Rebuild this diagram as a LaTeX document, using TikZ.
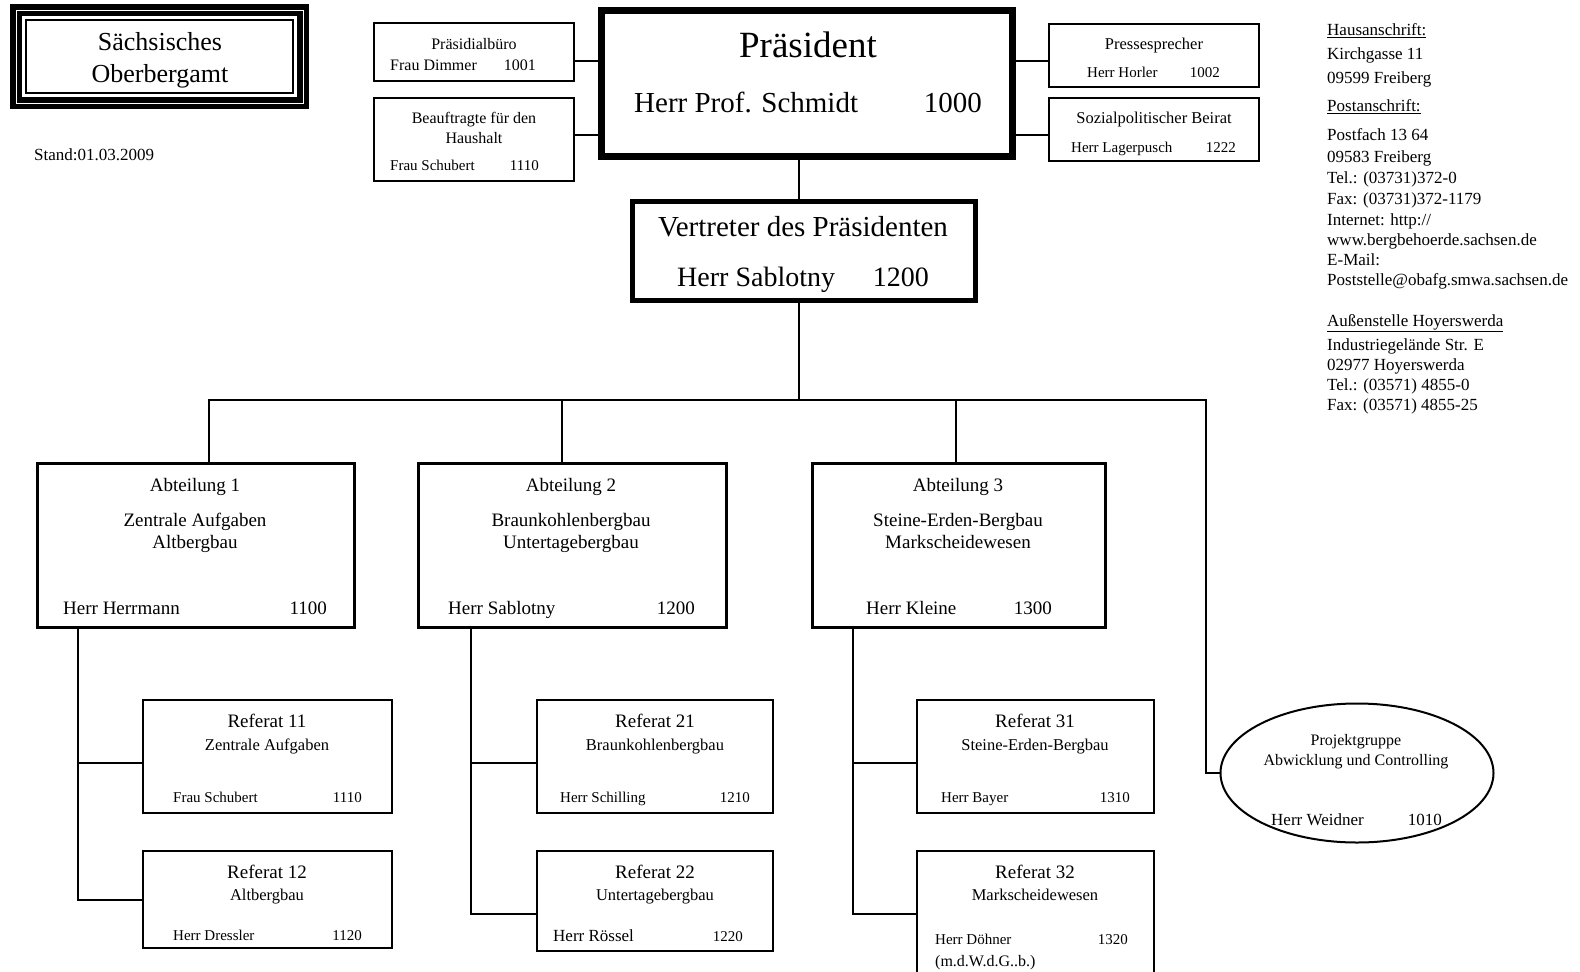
\documentclass[tikz,border=0pt]{standalone}
\usepackage{fontspec}
\setmainfont{Liberation Serif}
\usetikzlibrary{shapes.geometric,calc}
\newcommand{\fsz}[1]{\fontsize{#1}{#1}\selectfont}
\begin{document}
\begin{tikzpicture}[x=1pt,y=-1pt,
  box/.style={draw,rectangle,inner sep=0pt,outer sep=0pt,line width=2pt},
  abtbox/.style={box,line width=3pt},
  refbox/.style={box,line width=2.5pt},
  conn/.style={line width=2pt},
  t/.style={inner sep=0pt,anchor=mid,font=\fsz{#1},yshift={-0.25*#1}},
  tl/.style={inner sep=0pt,anchor=mid west,font=\fsz{#1},yshift={-0.25*#1}},
  tr/.style={inner sep=0pt,anchor=mid east,font=\fsz{#1},yshift={-0.25*#1}}
]
\useasboundingbox (0,0) rectangle (1580,972);
\clip (0,0) rectangle (1580,972);

% title
\node[draw,line width=12pt,inner sep=0pt,outer sep=0pt,minimum width=287,minimum height=93] (title) at (159.5,56.5) {};
\draw[white,line width=0.8pt] (title.north west) rectangle (title.south east);
\draw[line width=2pt] ($(title.north west)+(10,10)$) rectangle ($(title.south east)+(-10,-10)$);
\node[t=26] (tt1) at (160,42) {Sächsisches};
\node[t=26] (tt2) at (160,74) {Oberbergamt};
\node[tl=17] (stand) at (34,154) {Stand:01.03.2009};

% top boxes
\node[box,minimum width=200,minimum height=58] (pb) at (474,52) {};
\node[t=16] (pb1) at (474,43) {Präsidialbüro};
\node[tl=16] (pb2) at (390,64) {Frau Dimmer};
\node[tr=16] (pb3) at (536,64) {1001};

\node[box,minimum width=200,minimum height=83] (bh) at (474,139.5) {};
\node[t=16] (bh1) at (474,117) {Beauftragte für den};
\node[t=16] (bh2) at (474,137) {Haushalt};
\node[tl=15] (bh3) at (390,164) {Frau Schubert};
\node[tr=15] (bh4) at (539,164) {1110};

\node[box,line width=7.5pt,minimum width=411,minimum height=146] (praes) at (807,83.5) {};
\node[t=37] (pr1) at (808,46) {Präsident};
\node[tl=29] (pr2) at (634,103) {Herr Prof. Schmidt};
\node[tr=29] (pr3) at (982,103) {1000};

\node[box,line width=5pt,minimum width=343,minimum height=99] (vert) at (803.5,250.5) {};
\node[t=29] (ve1) at (803,227) {Vertreter des Präsidenten};
\node[tl=28] (ve2) at (677,277) {Herr Sablotny};
\node[tr=28] (ve3) at (929,277) {1200};

\node[box,minimum width=210,minimum height=63] (press) at (1154,55.5) {};
\node[t=16.5] (ps1) at (1154,43) {Pressesprecher};
\node[tl=15] (ps2) at (1087,71) {Herr Horler};
\node[tr=15] (ps3) at (1220,71) {1002};

\node[box,minimum width=210,minimum height=63] (soz) at (1154,129.5) {};
\node[t=16.5] (so1) at (1154,117) {Sozialpolitischer Beirat};
\node[tl=15] (so2) at (1071,146) {Herr Lagerpusch};
\node[tr=15] (so3) at (1236,146) {1222};

% address block
\begin{scope}[every node/.style={tl=17}]
\node (a1) at (1327,29) {\underline{Hausanschrift:}};
\node (a2) at (1327,53) {Kirchgasse 11};
\node (a3) at (1327,77) {09599 Freiberg};
\node (a4) at (1327,105) {\underline{Postanschrift:}};
\node (a5) at (1327,134) {Postfach 13 64};
\node (a6) at (1327,156) {09583 Freiberg};
\node (a7) at (1327,177) {Tel.: (03731)372-0};
\node (a8) at (1327,198) {Fax: (03731)372-1179};
\node (a9) at (1327,219) {Internet: http://};
\node (a10) at (1327,239) {www.bergbehoerde.sachsen.de};
\node (a11) at (1327,259) {E-Mail:};
\node (a12) at (1327,279) {Poststelle@obafg.smwa.sachsen.de};
\node (a13) at (1327,320) {\underline{Außenstelle Hoyerswerda}};
\node (a14) at (1327,344) {Industriegelände Str. E};
\node (a15) at (1327,364) {02977 Hoyerswerda};
\node (a16) at (1327,384) {Tel.: (03571) 4855-0};
\node (a17) at (1327,404) {Fax: (03571) 4855-25};
\end{scope}

% Abteilungen
\node[abtbox,minimum width=317,minimum height=164] (abt1) at (195.5,545) {};
\node[t=19] (ab11) at (195,484) {Abteilung 1};
\node[t=19] (ab12) at (195,519) {Zentrale Aufgaben};
\node[t=19] (ab13) at (195,541) {Altbergbau};
\node[tl=19] (ab14) at (63,607) {Herr Herrmann};
\node[tr=19] (ab15) at (327,607) {1100};

\node[abtbox,minimum width=308,minimum height=164] (abt2) at (572,545) {};
\node[t=19] (ab21) at (571,484) {Abteilung 2};
\node[t=19] (ab22) at (571,519) {Braunkohlenbergbau};
\node[t=19] (ab23) at (571,541) {Untertagebergbau};
\node[tl=19] (ab24) at (448,607) {Herr Sablotny};
\node[tr=19] (ab25) at (695,607) {1200};

\node[abtbox,minimum width=293,minimum height=164] (abt3) at (958.5,545) {};
\node[t=19] (ab31) at (958,484) {Abteilung 3};
\node[t=19] (ab32) at (958,519) {Steine-Erden-Bergbau};
\node[t=19] (ab33) at (958,541) {Markscheidewesen};
\node[tl=19] (ab34) at (866,607) {Herr Kleine};
\node[tr=19] (ab35) at (1052,607) {1300};

% Referate
\node[refbox,minimum width=249,minimum height=113] (r11) at (267.5,756.5) {};
\node[t=19] (r111) at (267,720) {Referat 11};
\node[t=16.5] (r112) at (267,744) {Zentrale Aufgaben};
\node[tl=15] (r113) at (173,796) {Frau Schubert};
\node[tr=15] (r114) at (362,796) {1110};

\node[refbox,minimum width=249,minimum height=97] (r12) at (267.5,899.5) {};
\node[t=19] (r121) at (267,871) {Referat 12};
\node[t=16.5] (r122) at (267,894) {Altbergbau};
\node[tl=15] (r123) at (173,934) {Herr Dressler};
\node[tr=15] (r124) at (362,934) {1120};

\node[refbox,minimum width=236,minimum height=113] (r21) at (655,756.5) {};
\node[t=19] (r211) at (655,720) {Referat 21};
\node[t=16.5] (r212) at (655,744) {Braunkohlenbergbau};
\node[tl=15] (r213) at (560,796) {Herr Schilling};
\node[tr=15] (r214) at (750,796) {1210};

\node[refbox,minimum width=236,minimum height=100] (r22) at (655,901) {};
\node[t=19] (r221) at (655,871) {Referat 22};
\node[t=16.5] (r222) at (655,894) {Untertagebergbau};
\node[tl=17] (r223) at (553,935) {Herr Rössel};
\node[tr=15] (r224) at (743,935) {1220};

\node[refbox,minimum width=237,minimum height=113] (r31) at (1035.5,756.5) {};
\node[t=19] (r311) at (1035,720) {Referat 31};
\node[t=16.5] (r312) at (1035,744) {Steine-Erden-Bergbau};
\node[tl=15] (r313) at (941,796) {Herr Bayer};
\node[tr=15] (r314) at (1130,796) {1310};

\node[refbox,minimum width=237,minimum height=139] (r32) at (1035.5,920.5) {};
\node[t=19] (r321) at (1035,871) {Referat 32};
\node[t=16.5] (r322) at (1035,894) {Markscheidewesen};
\node[tl=15] (r323) at (935,938) {Herr Döhner};
\node[tr=15] (r324) at (1128,938) {1320};
\node[tl=16] (r325) at (935,960) {(m.d.W.d.G..b.)};

% Projektgruppe
\node[draw,ellipse,line width=2pt,inner sep=0pt,outer sep=0pt,minimum width=273,minimum height=139] (ell) at (1357,773) {};
\node[t=16] (el1) at (1356,739) {Projektgruppe};
\node[t=16] (el2) at (1356,759) {Abwicklung und Controlling};
\node[tl=17] (el3) at (1271,819) {Herr Weidner};
\node[tr=17] (el4) at (1442,819) {1010};

% helper coordinates
\coordinate (ya) at (0,61);
\coordinate (yb) at (0,135);
\coordinate (xv) at (799,0);
\coordinate (bus) at (0,400);
\coordinate (d1) at (209,0);
\coordinate (d2) at (562,0);
\coordinate (d3) at (956,0);
\coordinate (d4) at (1206,0);
\coordinate (v1) at (78,0);
\coordinate (v2) at (471,0);
\coordinate (v3) at (853,0);
\coordinate (yr1) at (0,763);
\coordinate (yr2a) at (0,900);
\coordinate (yr2b) at (0,914);

% connectors
\draw[conn] (pb.east |- ya) -- (praes.west |- ya);
\draw[conn] (bh.east |- yb) -- (praes.west |- yb);
\draw[conn] (praes.east |- ya) -- (press.west |- ya);
\draw[conn] (praes.east |- yb) -- (soz.west |- yb);
\draw[conn] (xv |- praes.south) -- (xv |- vert.north);
\draw[conn] (xv |- vert.south) -- (xv |- bus);
\draw[conn] (d1 |- abt1.north) -- (d1 |- bus) -- (d4 |- bus) -- (d4 |- ell.west) -- (ell.west);
\draw[conn] (d2 |- abt2.north) -- (d2 |- bus);
\draw[conn] (d3 |- abt3.north) -- (d3 |- bus);

\draw[conn] (v1 |- abt1.south) -- (v1 |- yr2a) -- (r12.west |- yr2a);
\draw[conn] (v1 |- yr1) -- (r11.west |- yr1);
\draw[conn] (v2 |- abt2.south) -- (v2 |- yr2b) -- (r22.west |- yr2b);
\draw[conn] (v2 |- yr1) -- (r21.west |- yr1);
\draw[conn] (v3 |- abt3.south) -- (v3 |- yr2b) -- (r32.west |- yr2b);
\draw[conn] (v3 |- yr1) -- (r31.west |- yr1);
\end{tikzpicture}
\end{document}
